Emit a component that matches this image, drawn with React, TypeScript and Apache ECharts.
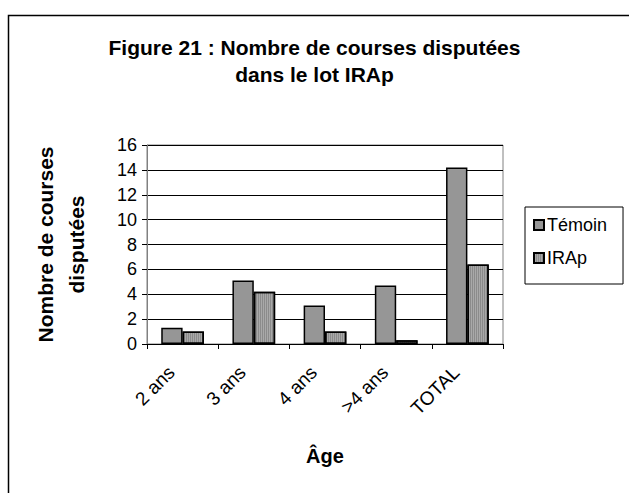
import React, { useEffect, useRef } from "react";
import * as echarts from "echarts";

const categories = ["2 ans", "3 ans", "4 ans", ">4 ans", "TOTAL"];
const temoin = [1.3, 5.1, 3.1, 4.7, 14.2];
const irap = [1.0, 4.2, 1.0, 0.3, 6.4];
const seriesNames = ["Témoin", "IRAp"];
const titleText = "Figure 21 : Nombre de courses disputées\ndans le lot IRAp";
const yName = "Nombre de courses\ndisputées";
const xName = "Âge";

export default function App() {
  const ref = useRef<HTMLDivElement>(null);
  useEffect(() => {
    document.body.style.margin = "0";
    const chart = echarts.init(ref.current!, undefined, { renderer: "svg" });
    const font = "'Liberation Sans', Arial, sans-serif";
    chart.setOption({
      animation: false,
      backgroundColor: "#fff",
      textStyle: { fontFamily: font, color: "#000" },
      title: {
        text: titleText,
        left: "center",
        top: 29,
        textStyle: { fontSize: 21, fontWeight: "bold", lineHeight: 27, color: "#000", fontFamily: font },
      },
      legend: {
        orient: "vertical",
        left: 525,
        top: 207,
        borderColor: "#000",
        borderWidth: 1,
        padding: [9, 16, 17, 8],
        itemWidth: 10,
        itemHeight: 10,
        itemGap: 15,
        icon: "rect",
        textStyle: { fontSize: 18, color: "#000", fontFamily: font, padding: [0, 0, 0, -2] },
        data: seriesNames,
      },
      grid: {
        left: 147,
        right: 126,
        top: 145,
        bottom: 149,
        show: true,
        borderColor: "#808080",
        borderWidth: 1,
        backgroundColor: "transparent",
      },
      xAxis: {
        type: "category",
        data: categories,
        axisLine: { lineStyle: { color: "#000", width: 1 } },
        axisTick: { show: true, length: 5, lineStyle: { color: "#000" } },
        axisLabel: {
          rotate: 45,
          fontSize: 19,
          color: "#000",
          margin: 14,
          padding: [0, 16, 0, 0],
          fontFamily: font,
        },
        name: xName,
        nameLocation: "middle",
        nameGap: 102,
        nameTextStyle: { fontSize: 20, fontWeight: "bold", color: "#000", fontFamily: font },
      },
      yAxis: {
        type: "value",
        min: 0,
        max: 16,
        interval: 2,
        axisLine: { show: true, lineStyle: { color: "#808080", width: 1 } },
        axisTick: { show: true, length: 5, lineStyle: { color: "#000" } },
        axisLabel: { fontSize: 18, color: "#000", margin: 10, fontFamily: font },
        splitLine: { lineStyle: { color: "#000", width: 1 } },
        name: yName,
        nameLocation: "middle",
        nameRotate: 90,
        nameGap: 55,
        nameTextStyle: { fontSize: 21, fontWeight: "bold", color: "#000", lineHeight: 31, fontFamily: font },
      },
      series: [
        {
          name: seriesNames[0],
          type: "bar",
          data: temoin,
          barGap: "0%",
          barCategoryGap: "40%",
          itemStyle: { color: "#969696", borderColor: "#000", borderWidth: 1.5 },
        },
        {
          name: seriesNames[1],
          type: "bar",
          data: irap,
          barGap: "0%",
          barCategoryGap: "40%",
          itemStyle: {
            color: "#a9a9a9",
            borderColor: "#000",
            borderWidth: 1.5,
            decal: {
              symbol: "rect",
              symbolSize: 1,
              color: "rgba(0,0,0,0.18)",
              dashArrayX: [1, 1],
              dashArrayY: [4, 0],
              rotation: 0,
            },
          },
        },
      ],
      graphic: [
        {
          type: "rect",
          shape: { x: 8.5, y: 15.5, width: 700, height: 600 },
          style: { fill: "none", stroke: "#000", lineWidth: 1.5 },
          silent: true,
        },
      ],
    });
    return () => chart.dispose();
  }, []);
  return <div ref={ref} style={{ width: 629, height: 493 }} />;
}
